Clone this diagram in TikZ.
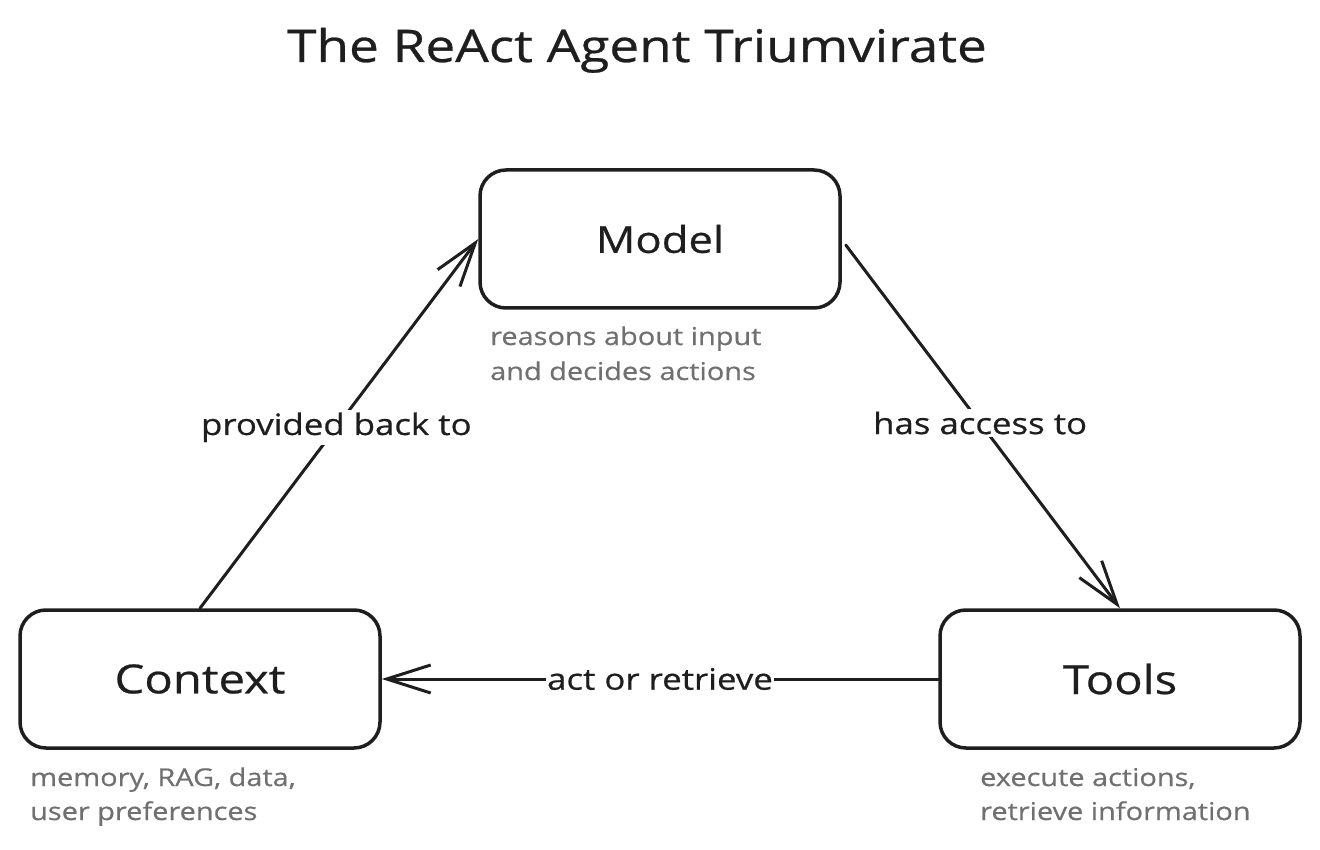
\documentclass[tikz,border=0pt]{standalone}
\usepackage{fontspec}
\setmainfont[FakeStretch=1.18, FakeBold=0.6]{Open Sans}
\usetikzlibrary{arrows.meta}
\definecolor{ink}{HTML}{1E1E1E}
\definecolor{note}{HTML}{707070}
\tikzset{
  box/.style={draw=ink, line width=3.5pt, rounded corners=26pt, minimum width=360pt, minimum height=138pt, inner sep=0pt, font=\fontsize{40}{44}\selectfont, text=ink},
  arr/.style={draw=ink, line width=3pt, line cap=round, -{Straight Barb[length=44pt, width=28pt, line width=3pt]}},
  lbl/.style={fill=white, inner sep=3pt, text=ink, font=\fontsize{29.5}{32}\selectfont},
  notetxt/.style={anchor=base west, inner sep=0pt, text=note, font=\fontsize{24.5}{30}\selectfont},
}
\begin{document}
\begin{tikzpicture}[x=1pt, y=-1pt]
\useasboundingbox (0,0) rectangle (1320,850);
\node[anchor=base, text=ink, font=\fontsize{45}{50}\selectfont] (title) at (637,62) {The ReAct Agent Triumvirate};
\node[box, font=\fontsize{37}{42}\selectfont] (model) at (660,239) {Model};
\node[box] (context) at (200,679) {Context};
\node[box] (tools) at (1120,679) {Tools};
\node[notetxt] (m1) at (490,345) {reasons about input};
\node[notetxt] (m2) at (490,380) {and decides actions};
\node[notetxt] (c1) at (30,786) {memory, RAG, data,};
\node[notetxt] (c2) at (30,820) {user preferences};
\node[notetxt] (t1) at (980,786) {execute actions,};
\node[notetxt] (t2) at (980,820) {retrieve information};
\draw[arr] (context.north) -- node[lbl, pos=0.49] (l1) {provided back to} (model.west);
\draw[arr] ([xshift=4pt,yshift=-6pt]model.east) -- node[lbl, pos=0.49] (l2) {has access to} (tools.north);
\draw[arr] (tools.west) -- node[lbl, inner sep=1pt] (l3) {act or retrieve} (context.east);
\end{tikzpicture}
\end{document}
